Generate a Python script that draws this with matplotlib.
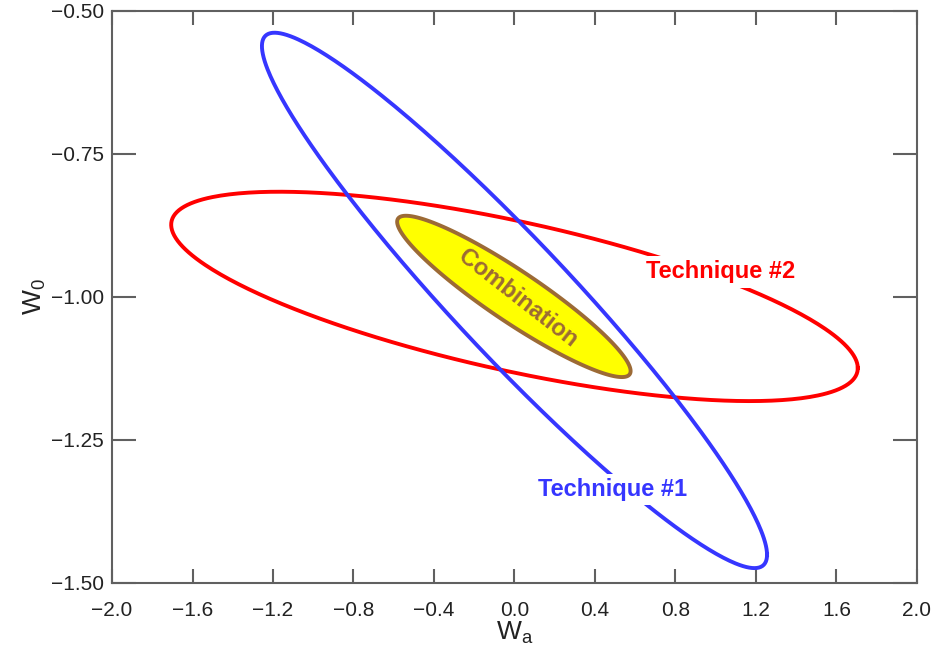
import numpy as np
import matplotlib.pyplot as plt

# ellipse parameters: centre, half width in w_a,
# half height in w_0 and the correlation between the two
names = ["Technique #1", "Technique #2", "Combination"]
centre_wa = [0.0, 0.0, -0.003]
centre_w0 = [-1.006, -0.999, -0.999]
half_wa = [1.255, 1.706, 0.58]
half_w0 = [0.468, 0.183, 0.141]
corr = [-0.950, -0.685, -0.925]

# label positions (data coords)
label_wa = [0.488, 1.025, 0.015]
label_w0 = [-1.337, -0.956, -1.002]

xticks = [-2.0, -1.6, -1.2, -0.8, -0.4, 0.0, 0.4, 0.8, 1.2, 1.6, 2.0]
yticks = [-0.50, -0.75, -1.00, -1.25, -1.50]

plt.rcParams["font.family"] = ["Liberation Sans", "DejaVu Sans"]


def ellipse(i, n=400):
    t = np.linspace(0, 2 * np.pi, n)
    x = centre_wa[i] + half_wa[i] * np.cos(t)
    y = centre_w0[i] + half_w0[i] * (corr[i] * np.cos(t) + np.sqrt(1 - corr[i] ** 2) * np.sin(t))
    return x, y


fig = plt.figure(figsize=(9.35, 6.54), dpi=100)
ax = fig.add_axes([0.1198, 0.1086, 0.8609, 0.8746])

x1, y1 = ellipse(0)
x2, y2 = ellipse(1)
x3, y3 = ellipse(2)
ax.plot(x2, y2, color="#ff0000", lw=2.8, zorder=2)
ax.plot(x1, y1, color="#3636ff", lw=2.8, zorder=3)
ax.fill(x3, y3, facecolor="#ffff00", edgecolor="#9c6a35", lw=2.8, zorder=4)

ax.text(label_wa[0], label_w0[0], names[0], color="#3636ff", fontsize=17, fontweight="bold",
        ha="center", va="center", zorder=5,
        bbox=dict(facecolor="white", edgecolor="none", pad=3))
ax.text(label_wa[1], label_w0[1], names[1], color="#ff0000", fontsize=17, fontweight="bold",
        ha="center", va="center", zorder=5,
        bbox=dict(facecolor="white", edgecolor="none", pad=3))
ax.text(label_wa[2], label_w0[2], names[2], color="#9c6a35", fontsize=17, fontweight="bold",
        ha="center", va="center", rotation=-38, rotation_mode="anchor", zorder=6)

ax.set_xlim(-2.0, 2.0)
ax.set_ylim(-1.5, -0.5)
ax.set_xticks(xticks)
ax.set_yticks(yticks)
ax.set_xticklabels(["\u2212%.1f" % abs(v) if v < 0 else "%.1f" % v for v in xticks])
ax.set_yticklabels(["\u2212%.2f" % abs(v) for v in yticks])

for s in ax.spines.values():
    s.set_color("#606060")
    s.set_linewidth(1.5)
ax.tick_params(axis="x", direction="in", length=10, width=1.5, color="#606060",
               top=True, labelsize=15, labelcolor="#222222", pad=13)
ax.tick_params(axis="y", direction="in", length=17, width=1.5, color="#606060",
               right=True, labelsize=15, labelcolor="#222222", pad=6)

ax.set_xlabel(r"$\mathregular{W_a}$", fontsize=19, labelpad=0, color="#222222")
ax.set_ylabel(r"$\mathregular{W_0}$", fontsize=19, labelpad=2, color="#222222")

fig.savefig("out.png", dpi=100)
